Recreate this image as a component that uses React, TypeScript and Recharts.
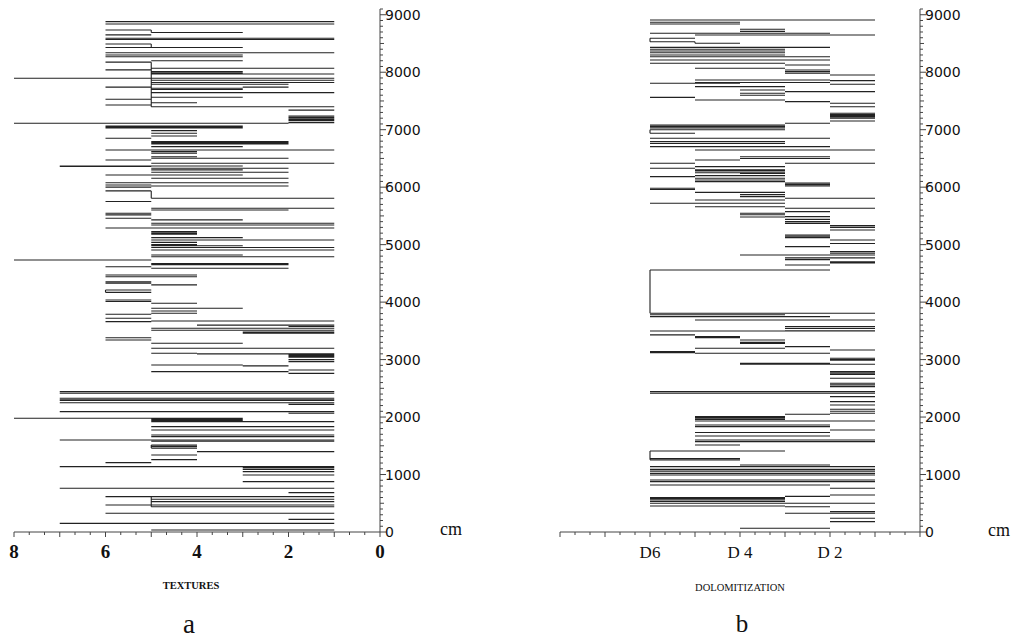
import React from 'react';
import { ComposedChart, Line, XAxis, YAxis } from 'recharts';

// [depth cm, left value, right value]
type Seg = [number, number, number];

const texturesLines: Seg[] = [
  [8880, 6, 1], [8840, 6, 1], [8735, 6, 5], [8690, 5, 3], [8650, 6, 5], [8590, 6, 1], [8570, 6, 1],
  [8490, 6, 5], [8430, 6, 3], [8340, 6, 1], [8300, 6, 3], [8270, 6, 3], [8200, 5, 3], [8175, 6, 5],
  [8070, 5, 1], [8040, 6, 5], [8010, 5, 3], [7985, 5, 3], [7970, 5, 1], [7895, 8, 1], [7860, 5, 1],
  [7820, 5, 1], [7790, 5, 2], [7740, 6, 5], [7740, 3, 2], [7720, 5, 3], [7700, 5, 3], [7645, 5, 1],
  [7565, 5, 3], [7530, 6, 5], [7470, 5, 4], [7430, 6, 5], [7400, 5, 1], [7340, 2, 1], [7238, 2, 1],
  [7215, 2, 1], [7198, 2, 1], [7175, 2, 1], [7157, 2, 1], [7123, 2, 1], [7111, 8, 2], [7065, 6, 3],
  [7045, 6, 3], [7030, 6, 3], [6983, 5, 4], [6937, 5, 4], [6890, 5, 4], [6850, 6, 5], [6792, 5, 2],
  [6770, 5, 2], [6752, 5, 2], [6705, 5, 3], [6647, 6, 1], [6618, 5, 4], [6590, 5, 4], [6530, 5, 4],
  [6502, 5, 2], [6473, 6, 5], [6415, 5, 1], [6368, 7, 3], [6360, 7, 5], [6330, 5, 2], [6300, 5, 3],
  [6260, 5, 2], [6212, 6, 3], [6154, 5, 2], [6078, 6, 2], [6038, 6, 5], [6020, 5, 2], [6000, 6, 5],
  [5935, 6, 5], [5806, 5, 1], [5750, 6, 5], [5632, 5, 1], [5603, 5, 2], [5545, 6, 5], [5518, 6, 5],
  [5458, 6, 5], [5430, 5, 3], [5371, 5, 1], [5342, 5, 1], [5290, 6, 1], [5226, 5, 4], [5200, 5, 4],
  [5180, 5, 4], [5122, 5, 3], [5080, 5, 1], [5040, 5, 4], [5000, 5, 4], [4980, 5, 3], [4950, 5, 1],
  [4907, 5, 1], [4820, 5, 3], [4790, 5, 1], [4733, 8, 5], [4670, 5, 2], [4650, 5, 2], [4616, 6, 5],
  [4588, 5, 2], [4472, 6, 4], [4440, 6, 4], [4355, 6, 5], [4330, 6, 5], [4300, 5, 4], [4210, 6, 5],
  [4170, 6, 5], [4037, 6, 5], [4010, 6, 5], [3980, 5, 4], [3892, 5, 3], [3846, 5, 4], [3806, 5, 4],
  [3788, 6, 5], [3718, 6, 5], [3672, 5, 1], [3660, 6, 5], [3600, 4, 1], [3575, 2, 1], [3545, 5, 1],
  [3510, 5, 1], [3480, 3, 1], [3460, 3, 1], [3380, 6, 5], [3340, 6, 5], [3283, 5, 3], [3196, 5, 1],
  [3110, 5, 4], [3100, 4, 1], [3080, 2, 1], [3060, 2, 1], [3040, 2, 1], [3000, 2, 1], [2964, 2, 1],
  [2906, 5, 3], [2890, 3, 2], [2820, 2, 1], [2790, 5, 2], [2760, 2, 1], [2442, 7, 1], [2413, 7, 1],
  [2326, 7, 1], [2300, 7, 1], [2290, 7, 1], [2250, 7, 1], [2220, 2, 1], [2094, 7, 1], [2065, 2, 1],
  [1978, 8, 3], [1960, 5, 3], [1940, 5, 3], [1920, 5, 1], [1833, 5, 1], [1775, 5, 1], [1688, 5, 1],
  [1660, 5, 1], [1601, 7, 1], [1580, 5, 1], [1514, 5, 4], [1490, 5, 4], [1460, 5, 4], [1398, 4, 1],
  [1340, 5, 4], [1260, 5, 4], [1207, 6, 5], [1138, 7, 1], [1120, 3, 1], [1090, 3, 1], [1050, 3, 1],
  [992, 3, 1], [876, 3, 1], [760, 7, 1], [685, 2, 1], [615, 6, 1], [570, 5, 1], [528, 5, 1],
  [470, 6, 1], [440, 5, 1], [325, 6, 1], [220, 2, 1], [150, 7, 1], [35, 5, 1],
];

// [value, top depth, bottom depth]
const texturesSteps: Seg[] = [
  [5, 8735, 8690], [5, 8490, 8430], [5, 8175, 7400], [5, 5935, 5806], [6, 4210, 4170],
  [5, 1514, 1460], [5, 615, 440],
];

const dolomiteLines: Seg[] = [
  [8909, 6, 1], [8870, 6, 4], [8840, 6, 4], [8747, 4, 3], [8710, 4, 3], [8677, 6, 2], [8648, 5, 1],
  [8590, 6, 5], [8530, 6, 5], [8503, 5, 4], [8433, 6, 2], [8399, 6, 3], [8370, 6, 3], [8340, 6, 3],
  [8300, 6, 3], [8270, 6, 2], [8213, 6, 2], [8155, 6, 3], [8126, 3, 2], [8068, 5, 3], [8039, 3, 2],
  [8010, 3, 2], [7981, 3, 2], [7952, 2, 1], [7865, 5, 2], [7854, 2, 1], [7820, 5, 2], [7807, 6, 4],
  [7790, 2, 1], [7750, 5, 3], [7690, 4, 3], [7662, 3, 1], [7633, 4, 3], [7600, 4, 3], [7563, 6, 5],
  [7517, 5, 3], [7488, 3, 2], [7460, 2, 1], [7400, 2, 1], [7285, 2, 1], [7262, 2, 1], [7240, 2, 1],
  [7220, 2, 1], [7200, 2, 1], [7150, 2, 1], [7111, 3, 2], [7080, 6, 3], [7053, 6, 3], [7030, 6, 3],
  [7000, 6, 3], [6937, 6, 5], [6850, 6, 2], [6792, 6, 3], [6760, 6, 3], [6705, 6, 2], [6647, 5, 1],
  [6530, 4, 2], [6500, 4, 2], [6473, 5, 4], [6415, 6, 5], [6415, 3, 1], [6357, 5, 3], [6330, 6, 5],
  [6300, 5, 3], [6280, 5, 3], [6250, 5, 3], [6240, 4, 3], [6200, 5, 3], [6183, 6, 5], [6154, 5, 3],
  [6125, 5, 3], [6096, 5, 3], [6070, 3, 2], [6045, 3, 2], [6020, 3, 2], [5980, 6, 5], [5960, 6, 5],
  [5910, 5, 3], [5870, 4, 3], [5835, 4, 3], [5806, 3, 1], [5777, 5, 3], [5719, 6, 3], [5660, 5, 3],
  [5632, 3, 1], [5574, 3, 2], [5545, 4, 3], [5520, 4, 3], [5487, 3, 2], [5480, 4, 3], [5440, 3, 2],
  [5400, 3, 2], [5370, 3, 2], [5330, 2, 1], [5300, 2, 1], [5255, 2, 1], [5168, 3, 2], [5145, 3, 2],
  [5122, 3, 2], [5080, 2, 1], [5020, 2, 1], [4965, 3, 2], [4878, 2, 1], [4850, 2, 1], [4820, 4, 1],
  [4770, 3, 1], [4740, 3, 2], [4700, 2, 1], [4680, 2, 1], [4646, 3, 2], [4559, 6, 2], [3805, 6, 1],
  [3780, 6, 3], [3747, 6, 2], [3690, 5, 1], [3573, 3, 1], [3540, 3, 1], [3500, 3, 1], [3498, 6, 3],
  [3430, 6, 5], [3400, 5, 4], [3380, 5, 4], [3340, 4, 3], [3300, 4, 3], [3280, 4, 3], [3225, 3, 2],
  [3196, 5, 3], [3167, 2, 1], [3138, 6, 5], [3120, 6, 5], [3110, 5, 2], [3022, 2, 1], [3000, 2, 1],
  [2990, 2, 1], [2935, 4, 2], [2920, 4, 1], [2790, 2, 1], [2765, 2, 1], [2740, 2, 1], [2674, 2, 1],
  [2587, 2, 1], [2560, 2, 1], [2530, 2, 1], [2442, 6, 1], [2413, 6, 1], [2355, 2, 1], [2268, 2, 1],
  [2210, 2, 1], [2135, 2, 1], [2100, 2, 1], [2065, 2, 1], [2050, 3, 2], [2007, 5, 3], [1985, 5, 3],
  [1960, 5, 3], [1932, 5, 1], [1862, 5, 2], [1833, 5, 2], [1775, 2, 1], [1730, 5, 2], [1670, 5, 2],
  [1600, 5, 1], [1573, 5, 1], [1514, 5, 4], [1410, 6, 3], [1280, 6, 4], [1255, 6, 4], [1166, 4, 2],
  [1137, 6, 1], [1090, 6, 1], [1060, 6, 1], [1020, 6, 1], [992, 6, 1], [905, 6, 1], [876, 6, 1],
  [818, 6, 2], [760, 2, 1], [645, 2, 1], [620, 3, 2], [600, 6, 3], [580, 6, 3], [557, 6, 3],
  [530, 6, 3], [500, 6, 1], [453, 6, 3], [440, 3, 2], [355, 2, 1], [325, 3, 1], [238, 2, 1],
  [180, 2, 1], [64, 4, 2],
];

const dolomiteSteps: Seg[] = [
  [6, 8590, 8530], [5, 8530, 8503], [6, 7000, 6937], [6, 4559, 3805], [6, 1410, 1255],
];

const depthLabels = [0, 1000, 2000, 3000, 4000, 5000, 6000, 7000, 8000, 9000];
const texturesTickLabels: Record<number, string> = { 0: '0', 2: '2', 4: '4', 6: '6', 8: '8' };
const dolomiteTickLabels: Record<number, string> = { 2: 'D 2', 4: 'D 4', 6: 'D6' };

const depthTicks: number[] = [];
for (let d = 0; d <= 9100; d += 100) depthTicks.push(d);
const valueTicks: number[] = [];
for (let k = 0; k <= 24; k++) valueTicks.push(k / 3);

function buildPath(lines: Seg[], steps: Seg[]) {
  const pts: { x: number; y: number | null }[] = [];
  for (const [d, a, b] of lines) {
    pts.push({ x: a, y: d }, { x: b, y: d }, { x: b, y: null });
  }
  for (const [v, d1, d2] of steps) {
    pts.push({ x: v, y: d1 }, { x: v, y: d2 }, { x: v, y: null });
  }
  return pts;
}

const makeXTick = (labels: Record<number, string>, font: React.CSSProperties) => (props: any) => {
  const { x, y, payload } = props;
  const v: number = payload.value;
  const r = Math.round(v);
  const isInt = Math.abs(v - r) < 1e-6;
  const label = isInt ? labels[r] : undefined;
  return (
    <g>
      <line x1={x} y1={y} x2={x} y2={y + (isInt ? 5 : 3)} stroke="#444" strokeWidth={1} />
      {label !== undefined && (
        <text x={x} y={y + 26} textAnchor="middle" fill="#111" style={font}>
          {label}
        </text>
      )}
    </g>
  );
};

const YTick = (props: any) => {
  const { x, y, payload } = props;
  const v: number = payload.value;
  const major = v % 1000 === 0;
  const mid = v % 500 === 0;
  return (
    <g>
      <line x1={x} y1={y} x2={x + (major ? 6 : mid ? 4 : 3)} y2={y} stroke="#444" strokeWidth={1} />
      {major && depthLabels.includes(v) && (
        <text x={x + 5} y={y + 5} textAnchor="start" fill="#111"
          style={{ fontFamily: 'DejaVu Sans', fontSize: 14 }}>
          {v}
        </text>
      )}
    </g>
  );
};

const texturesData = buildPath(texturesLines, texturesSteps);
const dolomiteData = buildPath(dolomiteLines, dolomiteSteps);

function Panel(props: { data: any[]; left: number; marginLeft: number; labels: Record<number, string>; font: React.CSSProperties }) {
  return (
    <div style={{ position: 'absolute', left: props.left, top: 0 }}>
      <ComposedChart
        width={470}
        height={639}
        data={props.data}
        margin={{ top: 9, right: 30, bottom: 77, left: props.marginLeft }}
      >
        <XAxis
          dataKey="x"
          type="number"
          domain={[0, 8]}
          reversed
          ticks={valueTicks}
          interval={0}
          tickLine={false}
          tickSize={0}
          tickMargin={0}
          axisLine={{ stroke: '#444', strokeWidth: 1 }}
          tick={makeXTick(props.labels, props.font)}
          height={30}
        />
        <YAxis
          type="number"
          orientation="right"
          domain={[0, 9100]}
          ticks={depthTicks}
          interval={0}
          tickLine={false}
          tickSize={0}
          tickMargin={0}
          axisLine={{ stroke: '#444', strokeWidth: 1 }}
          tick={YTick}
          width={60}
        />
        <Line
          dataKey="y"
          type="linear"
          stroke="#222"
          strokeWidth={1.1}
          dot={false}
          activeDot={false}
          isAnimationActive={false}
          connectNulls={false}
        />
      </ComposedChart>
    </div>
  );
}

export default function App() {
  const serif = 'Liberation Serif';
  return (
    <div style={{ position: 'absolute', left: 0, top: 0, width: 1015, height: 639, background: '#fff', overflow: 'hidden' }}>
      <Panel data={texturesData} left={0} marginLeft={14} labels={texturesTickLabels}
        font={{ fontFamily: serif, fontSize: 19, fontWeight: 'bold' }} />
      <Panel data={dolomiteData} left={540} marginLeft={20} labels={dolomiteTickLabels}
        font={{ fontFamily: serif, fontSize: 17 }} />
      <svg width={1015} height={639} style={{ position: 'absolute', left: 0, top: 0, pointerEvents: 'none' }}>
        <text x={440} y={535} fill="#111" style={{ fontFamily: serif, fontSize: 18 }}>cm</text>
        <text x={988} y={536} fill="#111" style={{ fontFamily: serif, fontSize: 18 }}>cm</text>
        <text x={191} y={589} textAnchor="middle" fill="#111" style={{ fontFamily: serif, fontSize: 10.5, fontWeight: 'bold' }}>TEXTURES</text>
        <text x={740} y={591} textAnchor="middle" fill="#111" style={{ fontFamily: serif, fontSize: 10.5 }}>DOLOMITIZATION</text>
        <text x={189} y={633} textAnchor="middle" fill="#111" style={{ fontFamily: serif, fontSize: 27 }}>a</text>
        <text x={742} y={632} textAnchor="middle" fill="#111" style={{ fontFamily: serif, fontSize: 25 }}>b</text>
      </svg>
    </div>
  );
}
